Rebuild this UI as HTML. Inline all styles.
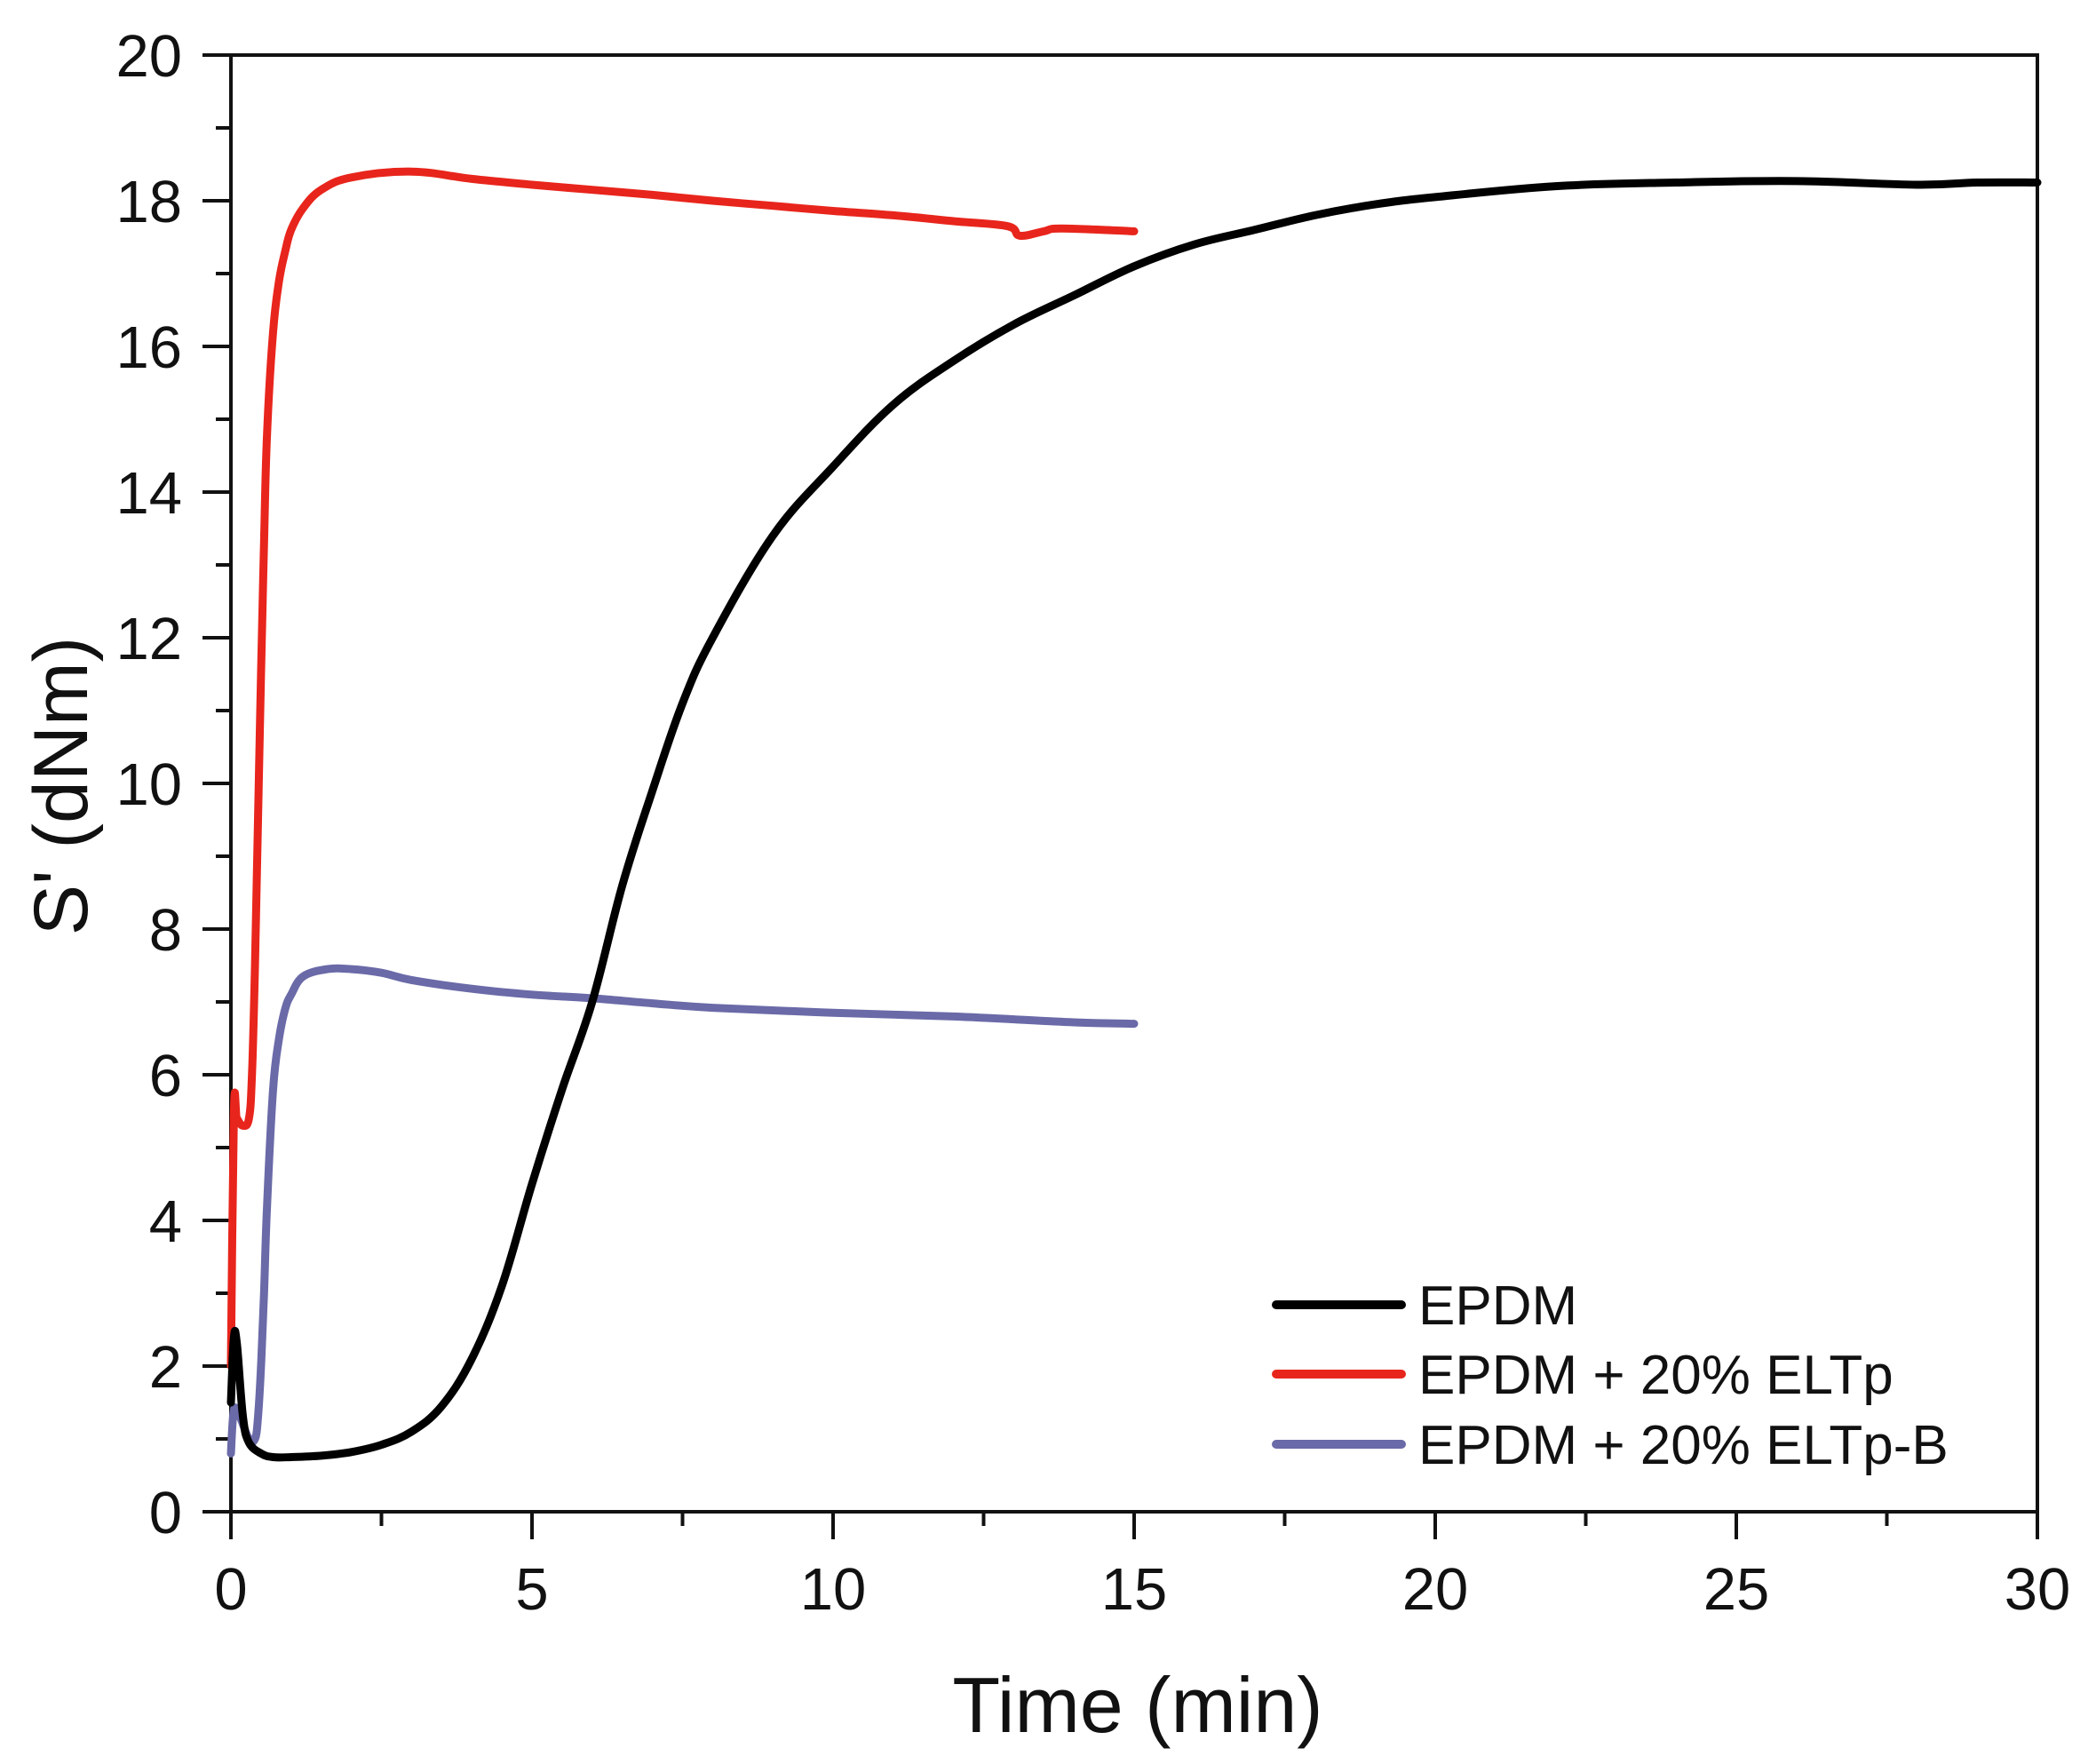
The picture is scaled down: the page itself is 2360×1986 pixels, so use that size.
<!DOCTYPE html>
<html><head><meta charset="utf-8"><style>
html,body{margin:0;padding:0;background:#fff;}
svg{display:block;font-family:"Liberation Sans",Arial,sans-serif;}
</style></head><body>
<svg id="chart" width="2360" height="1986" viewBox="0 0 2360 1986" xmlns="http://www.w3.org/2000/svg">
<g id="axes"></g>
<g id="series"></g>
<g id="legend"></g>
<text x="1281" y="1950" font-size="88" text-anchor="middle" fill="#111">Time (min)</text>
<text x="0" y="0" font-size="86" text-anchor="middle" fill="#111" transform="translate(98,885) rotate(-90)">S' (dNm)</text>
</svg>
<script>
const xTicks = [0,5,10,15,20,25,30];
const yTicks = [0,2,4,6,8,10,12,14,16,18,20];
const seriesNames = ["EPDM","EPDM + 20% ELTp","EPDM + 20% ELTp-B"];
const epdmX = [0,0.05,0.1,0.2,0.3,0.5,0.7,1,1.5,2,2.5,3,3.5,4,4.5,5,5.5,6,6.5,7,7.5,8,9,10,11,12,13,14,15,16,17,18,19,20,22,24,26,28,29,30];
const epdmY = [1.5,2.4,2.3,1.3,0.95,0.8,0.75,0.75,0.77,0.82,0.92,1.1,1.45,2.1,3.1,4.5,5.8,7.0,8.6,9.9,11.1,12.0,13.4,14.35,15.2,15.8,16.3,16.7,17.1,17.4,17.6,17.8,17.95,18.05,18.2,18.25,18.27,18.22,18.25,18.25];
const redX = [0,0.05,0.1,0.2,0.3,0.35,0.4,0.45,0.5,0.55,0.6,0.7,0.8,0.9,1.0,1.2,1.5,2,3,4,5,6,7,8,9,10,11,12,12.9,13.1,13.5,13.8,15];
const redY = [2.0,5.5,5.4,5.3,5.4,6.0,7.5,9.5,11.5,13.3,14.8,16.2,16.9,17.3,17.6,17.9,18.15,18.32,18.4,18.3,18.22,18.15,18.08,18.0,17.93,17.86,17.8,17.72,17.65,17.52,17.58,17.62,17.58];
const blueX = [0,0.05,0.15,0.3,0.4,0.45,0.5,0.55,0.6,0.7,0.8,0.9,1.0,1.2,1.6,2,2.5,3,4,5,6,7,8,10,12,14,15];
const blueY = [0.8,1.4,1.3,1.0,1.0,1.3,2.0,3.0,4.2,5.8,6.5,6.9,7.1,7.35,7.45,7.45,7.4,7.3,7.18,7.1,7.05,6.98,6.92,6.85,6.8,6.72,6.7];
const colors = ["#000000","#e8251c","#6a6aa8"];

const X0=260, X1=2294, Y0=1702, Y1=62;
function sx(v){return X0+(v-0)/(30-0)*(X1-X0);}
function sy(v){return Y0-(v-0)/(20-0)*(Y0-Y1);}
const NS="http://www.w3.org/2000/svg";
function mk(tag,parent,attrs){const e=document.createElementNS(NS,tag);for(const k in attrs)e.setAttribute(k,attrs[k]);parent.appendChild(e);return e;}
function smoothPath(xs,ys){
  const P=xs.map((x,i)=>[sx(x),sy(ys[i])]);
  let d='M'+P[0][0].toFixed(1)+','+P[0][1].toFixed(1);
  for(let i=0;i<P.length-1;i++){
    const p0=P[Math.max(0,i-1)],p1=P[i],p2=P[i+1],p3=P[Math.min(P.length-1,i+2)];
    const t=0.18;
    const c1=[p1[0]+(p2[0]-p0[0])*t,p1[1]+(p2[1]-p0[1])*t];
    const c2=[p2[0]-(p3[0]-p1[0])*t,p2[1]-(p3[1]-p1[1])*t];
    d+='C'+c1[0].toFixed(1)+','+c1[1].toFixed(1)+' '+c2[0].toFixed(1)+','+c2[1].toFixed(1)+' '+p2[0].toFixed(1)+','+p2[1].toFixed(1);
  }
  return d;
}

const axes=document.getElementById('axes');
const fr=mk('rect',axes,{x:X0,y:Y1,width:X1-X0,height:Y0-Y1,fill:'none',stroke:'#111','stroke-width':4});


for(let i=0;i<xTicks.length;i++){
  const v=xTicks[i];
  const t=mk('line',axes,{x1:sx(v),x2:sx(v),y1:Y0,y2:Y0+31,stroke:'#111','stroke-width':4});
  
  
  const l=mk('text',axes,{x:sx(v),y:1812,'font-size':67,'text-anchor':'middle',fill:'#111'});
  l.textContent=v;
  
  
  if(i<xTicks.length-1){
    const m=(xTicks[i]+xTicks[i+1])/2;
    const mt=mk('line',axes,{x1:sx(m),x2:sx(m),y1:Y0,y2:Y0+16,stroke:'#111','stroke-width':4});
    
    
  }
}
for(let i=0;i<yTicks.length;i++){
  const v=yTicks[i];
  const t=mk('line',axes,{x1:X0-32,x2:X0,y1:sy(v),y2:sy(v),stroke:'#111','stroke-width':4});
  
  
  const l=mk('text',axes,{x:205,y:sy(v)+24,'font-size':67,'text-anchor':'end',fill:'#111'});
  l.textContent=v;
  
  
  if(i<yTicks.length-1){
    const m=(yTicks[i]+yTicks[i+1])/2;
    const mt=mk('line',axes,{x1:X0-17,x2:X0,y1:sy(m),y2:sy(m),stroke:'#111','stroke-width':4});
    
    
  }
}
const ser=document.getElementById('series');
const allX=[epdmX,redX,blueX], allY=[epdmY,redY,blueY];
const sNames=['epdm-line','epdm-eltp-line','epdm-eltp-b-line'];
for(let s=2;s>=0;s--){
  const p=mk('path',ser,{d:smoothPath(allX[s],allY[s]),fill:'none',stroke:colors[s],'stroke-width':9,'stroke-linejoin':'round','stroke-linecap':'round'});
  
  
}
const lg=document.getElementById('legend');
const rows=[1469,1547,1626];
for(let s=0;s<3;s++){
  const g=mk('g',lg,{});
  
  
  const ln=mk('line',g,{x1:1437,x2:1578,y1:rows[s],y2:rows[s],stroke:colors[s],'stroke-width':10,'stroke-linecap':'round'});
  
  
  const tx=mk('text',g,{x:1597,y:rows[s]+22,'font-size':62,fill:'#111'});
  tx.textContent=seriesNames[s];
  
  
}
</script>
</body></html>
